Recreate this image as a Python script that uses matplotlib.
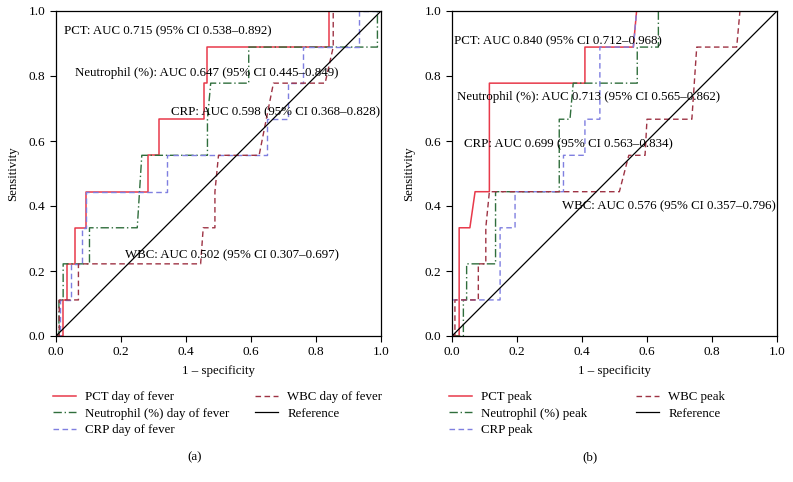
import matplotlib
matplotlib.use("Agg")
import matplotlib.pyplot as plt

plt.rcParams['font.family'] = ['Liberation Serif', 'DejaVu Serif']

# ---- Data: panel (a) day of fever ----
a_pct_x = [0, 0.023, 0.023, 0.034, 0.034, 0.057, 0.057, 0.091, 0.091, 0.284, 0.284, 0.318, 0.318, 0.455, 0.455, 0.466, 0.466, 0.841, 0.841, 1.0]
a_pct_y = [0, 0, 0.111, 0.111, 0.222, 0.222, 0.333, 0.333, 0.444, 0.444, 0.556, 0.556, 0.667, 0.667, 0.778, 0.778, 0.889, 0.889, 1.0, 1.0]
a_neu_x = [0, 0.009, 0.009, 0.022, 0.022, 0.103, 0.103, 0.25, 0.264, 0.466, 0.466, 0.476, 0.593, 0.593, 0.989, 0.989, 1.0]
a_neu_y = [0, 0, 0.111, 0.111, 0.222, 0.222, 0.333, 0.333, 0.556, 0.556, 0.667, 0.778, 0.778, 0.889, 0.889, 1.0, 1.0]
a_crp_x = [0, 0.011, 0.011, 0.045, 0.045, 0.079, 0.079, 0.091, 0.091, 0.341, 0.341, 0.65, 0.65, 0.715, 0.715, 0.761, 0.761, 0.932, 0.932, 1.0]
a_crp_y = [0, 0, 0.111, 0.111, 0.222, 0.222, 0.333, 0.333, 0.444, 0.444, 0.556, 0.556, 0.667, 0.667, 0.778, 0.778, 0.889, 0.889, 1.0, 1.0]
a_wbc_x = [0, 0.01, 0.01, 0.069, 0.069, 0.445, 0.453, 0.489, 0.489, 0.5, 0.625, 0.669, 0.828, 0.853, 0.853, 1.0]
a_wbc_y = [0, 0, 0.111, 0.111, 0.222, 0.222, 0.333, 0.333, 0.444, 0.556, 0.556, 0.778, 0.778, 0.889, 1.0, 1.0]

# ---- Data: panel (b) peak ----
b_pct_x = [0, 0.022, 0.022, 0.055, 0.071, 0.115, 0.115, 0.409, 0.409, 0.558, 0.568, 1.0]
b_pct_y = [0, 0, 0.333, 0.333, 0.444, 0.444, 0.778, 0.778, 0.889, 0.889, 1.0, 1.0]
b_neu_x = [0, 0.035, 0.035, 0.045, 0.045, 0.134, 0.134, 0.330, 0.330, 0.363, 0.373, 0.570, 0.570, 0.635, 0.635, 1.0]
b_neu_y = [0, 0, 0.111, 0.111, 0.222, 0.222, 0.444, 0.444, 0.667, 0.667, 0.778, 0.778, 0.889, 0.889, 1.0, 1.0]
b_crp_x = [0, 0, 0.148, 0.148, 0.194, 0.194, 0.343, 0.343, 0.409, 0.409, 0.455, 0.455, 0.558, 0.568, 1.0]
b_crp_y = [0, 0.111, 0.111, 0.333, 0.333, 0.444, 0.444, 0.556, 0.556, 0.667, 0.667, 0.889, 0.889, 1.0, 1.0]
b_wbc_x = [0, 0.009, 0.009, 0.081, 0.081, 0.104, 0.104, 0.115, 0.515, 0.544, 0.594, 0.600, 0.738, 0.753, 0.876, 0.886, 1.0]
b_wbc_y = [0, 0, 0.111, 0.111, 0.222, 0.222, 0.333, 0.444, 0.444, 0.556, 0.556, 0.667, 0.667, 0.889, 0.889, 1.0, 1.0]

ref_x = [0, 1]
ref_y = [0, 1]

a_labels = ["PCT day of fever", "Neutrophil (%) day of fever", "CRP day of fever", "WBC day of fever", "Reference"]
b_labels = ["PCT peak", "Neutrophil (%) peak", "CRP peak", "WBC peak", "Reference"]

a_notes = ["PCT: AUC 0.715 (95% CI 0.538\u20130.892)",
           "Neutrophil (%): AUC 0.647 (95% CI 0.445\u20130.849)",
           "CRP: AUC 0.598 (95% CI 0.368\u20130.828)",
           "WBC: AUC 0.502 (95% CI 0.307\u20130.697)"]
a_note_pos = [(0.025, 0.938), (0.057, 0.808), (0.354, 0.688), (0.213, 0.249)]
b_notes = ["PCT: AUC 0.840 (95% CI 0.712\u20130.968)",
           "Neutrophil (%): AUC 0.713 (95% CI 0.565\u20130.862)",
           "CRP: AUC 0.699 (95% CI 0.563\u20130.834)",
           "WBC: AUC 0.576 (95% CI 0.357\u20130.796)"]
b_note_pos = [(0.007, 0.906), (0.014, 0.736), (0.038, 0.589), (0.339, 0.400)]

ticks = [0.0, 0.2, 0.4, 0.6, 0.8, 1.0]
tick_labels = ["0.0", "0.2", "0.4", "0.6", "0.8", "1.0"]

C_PCT = '#e8394a'
C_NEU = '#2f6e3c'
C_CRP = '#7f7fe0'
C_WBC = '#9e3344'

FS = 9.3

fig = plt.figure(figsize=(7.93, 4.82), dpi=100)
W, H = 793, 482


def panel(left_px, data, labels, notes, note_pos, caption, cap_x, colspace):
    ax = fig.add_axes([left_px / W, (H - 336) / H, 325 / W, 325 / H])
    (px, py), (nx, ny), (cx, cy), (wx, wy) = data
    ax.plot(px, py, color=C_PCT, lw=1.1, ls='-', label=labels[0])
    ax.plot(nx, ny, color=C_NEU, lw=1.0, ls=(0, (6, 2, 1, 2)), label=labels[1])
    ax.plot(cx, cy, color=C_CRP, lw=1.0, ls=(0, (4, 2.5)), label=labels[2])
    ax.plot(wx, wy, color=C_WBC, lw=1.0, ls=(0, (4, 2.5)), label=labels[3])
    ax.plot(ref_x, ref_y, color='black', lw=0.9, label=labels[4])
    ax.set_xlim(0, 1)
    ax.set_ylim(0, 1)
    ax.set_xticks(ticks)
    ax.set_xticklabels(tick_labels)
    ax.set_yticks(ticks)
    ax.set_yticklabels(tick_labels)
    ax.tick_params(labelsize=9.5, direction='out', length=4, width=0.8)
    ax.set_xlabel("1 \u2013 specificity", fontsize=FS, labelpad=5)
    ax.set_ylabel("Sensitivity", fontsize=FS, labelpad=7)
    for s in ax.spines.values():
        s.set_linewidth(0.9)
    for t, (x, y) in zip(notes, note_pos):
        ax.text(x, y, t, fontsize=FS, ha='left', va='center')
    ax.legend(loc='upper left', bbox_to_anchor=((left_px - 8) / W, (H - 386) / H),
              bbox_transform=fig.transFigure, ncol=2, frameon=False,
              fontsize=FS, handlelength=1.75, handletextpad=0.75,
              columnspacing=colspace, labelspacing=0.35, borderaxespad=0)
    fig.text(cap_x / W, (H - 457) / H, caption, fontsize=FS, ha='center', va='center')
    return ax


panel(56, [(a_pct_x, a_pct_y), (a_neu_x, a_neu_y), (a_crp_x, a_crp_y), (a_wbc_x, a_wbc_y)],
      a_labels, a_notes, a_note_pos, "(a)", 195, 1.95)
panel(452, [(b_pct_x, b_pct_y), (b_neu_x, b_neu_y), (b_crp_x, b_crp_y), (b_wbc_x, b_wbc_y)],
      b_labels, b_notes, b_note_pos, "(b)", 590, 3.75)

fig.savefig("out.png", dpi=100)
